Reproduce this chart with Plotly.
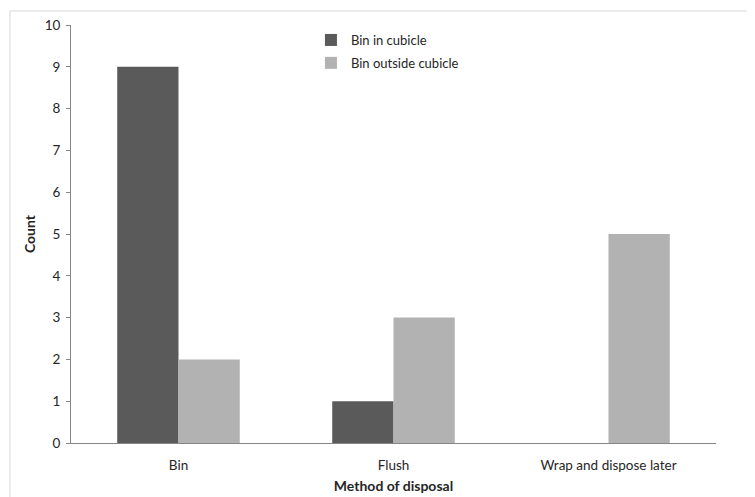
import plotly.graph_objects as go

categories = ["Bin", "Flush", "Wrap and dispose later"]
bin_in_cubicle = [9, 1, 0]
bin_outside_cubicle = [2, 3, 5]
y_ticks = list(range(0, 11))

FONT = "Lato, Open Sans, sans-serif"

fig = go.Figure()
fig.add_trace(go.Bar(name="Bin in cubicle", x=categories, y=bin_in_cubicle,
                     legendgroup="a",
                     marker=dict(color="#5a5a5a", line=dict(width=0))))
fig.add_trace(go.Bar(name="Bin outside cubicle", x=categories, y=bin_outside_cubicle,
                     legendgroup="b",
                     marker=dict(color="#b2b2b2", line=dict(width=0))))

# page body has 8px default margin, so the figure is sized 747x489
fig.update_layout(
    width=747, height=489,
    margin=dict(l=63, r=39, t=17, b=54, autoexpand=False),
    paper_bgcolor="white", plot_bgcolor="white",
    barmode="group", bargap=0.43, bargroupgap=0,
    font=dict(family=FONT, size=13.5, color="#262626"),
    showlegend=True,
    legend=dict(x=0.372, y=1.0, xanchor="left", yanchor="top",
                bgcolor="rgba(0,0,0,0)", font=dict(size=13, color="#262626"),
                itemwidth=30, tracegroupgap=3),
    xaxis=dict(showline=True, linecolor="#868686", linewidth=1, ticks="",
               showgrid=False, tickfont=dict(size=13.5), automargin=False,
               ticklabelstandoff=10,
               title=dict(text="<b>Method of disposal</b>", font=dict(size=14), standoff=8)),
    yaxis=dict(range=[0, 10], tickvals=y_ticks, showline=True, linecolor="#868686",
               linewidth=1, ticks="outside", ticklen=4, tickcolor="#868686",
               showgrid=False, zeroline=False, tickfont=dict(size=13.5), automargin=False,
               ticklabelstandoff=3,
               title=dict(text="<b>Count</b>", font=dict(size=14), standoff=5)),
)

fig.add_shape(type="rect", xref="paper", yref="paper",
              x0=-0.0946, y0=-0.25, x1=1.2, y1=1.0335,
              line=dict(color="#d9d9d9", width=1), fillcolor="rgba(0,0,0,0)",
              layer="below")

fig.write_html("out.html")
